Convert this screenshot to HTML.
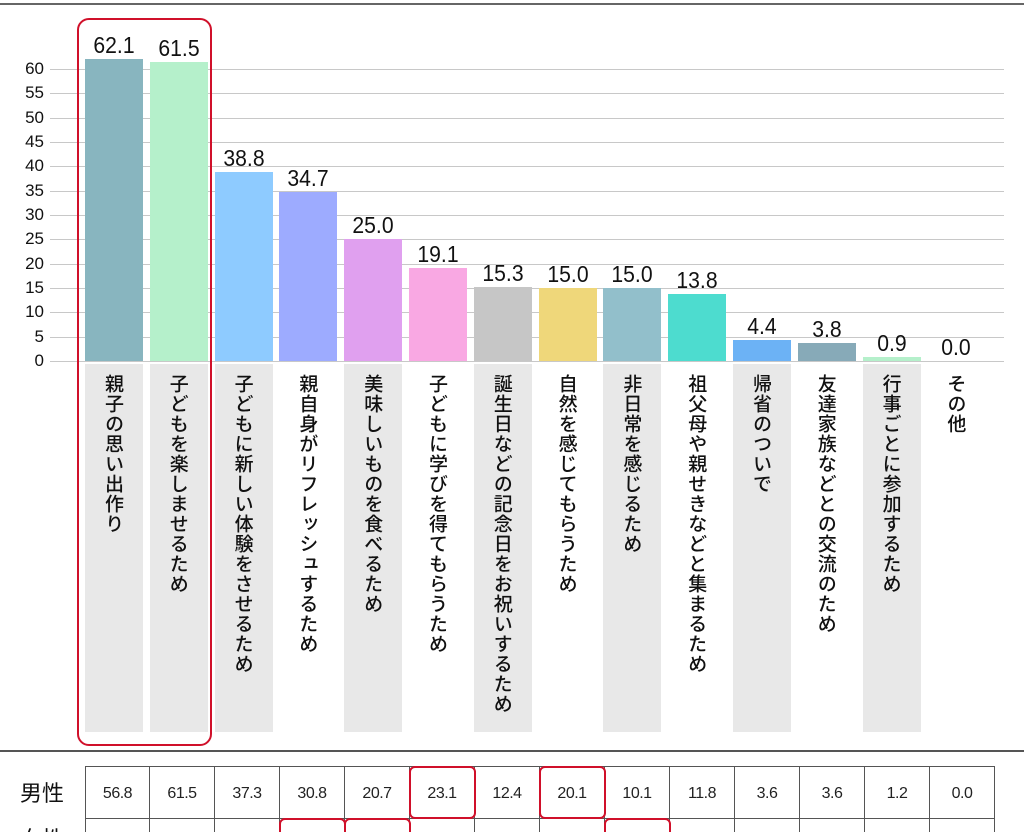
<!DOCTYPE html>
<html><head><meta charset="utf-8"><style>
html,body{margin:0;width:1024px;height:832px;overflow:hidden}
body{background:#fff;position:relative;font-family:"Liberation Sans","Noto Sans CJK JP",sans-serif;}
.a{position:absolute}
.g{position:absolute;left:50px;width:954px;height:1px;background:#c8c8c8}
.t{position:absolute;left:8px;width:36px;text-align:right;font-size:17px;color:#111}
.bar{position:absolute;width:58px}
.v{position:absolute;width:80px;text-align:center;font-size:23px;color:#111;transform:scaleX(0.92)}
.lb{position:absolute;top:364px;width:58px;height:368px}
.lt{position:absolute;top:374px;width:58px;writing-mode:vertical-rl;font-family:"Noto Sans CJK JP",sans-serif;font-size:19px;font-weight:500;line-height:58px;color:#111;letter-spacing:1px}
.c{position:absolute;top:766px;width:65px;height:52px;border-right:1px solid #555;border-top:1px solid #555;font-size:16px;text-align:center;line-height:54px;color:#222;box-sizing:border-box;letter-spacing:-0.5px}
.r{position:absolute;border:2px solid #d0102a;border-radius:6px;box-sizing:border-box}
</style></head><body>
<div class="a" style="left:0;top:3px;width:1024px;height:2px;background:#666"></div>
<div class="a" style="left:0;top:750px;width:1024px;height:2px;background:#555"></div>
<div id="ch"></div>
<div class="a" style="left:20px;top:776px;font-size:22px;font-family:'Noto Sans CJK JP',sans-serif;color:#111">男性</div>
<div class="a" style="left:20px;top:822px;font-size:22px;font-family:'Noto Sans CJK JP',sans-serif;color:#111">女性</div>
<div class="r" style="left:77px;top:18px;width:135px;height:728px;border-radius:12px"></div>
<script>
var vals=[62.1,61.5,38.8,34.7,25.0,19.1,15.3,15.0,15.0,13.8,4.4,3.8,0.9,0.0];
var cols=["#88b5bf","#b5f0cb","#8ecbff","#9dabff","#e0a0ef","#f9a8e3","#c6c6c6","#efd77a","#92bfcb","#4ddccf","#6cb2f5","#87aab8","#b5f0cb","#fff"];
var labs=["親子の思い出作り","子どもを楽しませるため","子どもに新しい体験をさせるため","親自身がリフレッシュするため","美味しいものを食べるため","子どもに学びを得てもらうため","誕生日などの記念日をお祝いするため","自然を感じてもらうため","非日常を感じるため","祖父母や親せきなどと集まるため","帰省のついで","友達家族などとの交流のため","行事ごとに参加するため","その他"];
var men=["56.8","61.5","37.3","30.8","20.7","23.1","12.4","20.1","10.1","11.8","3.6","3.6","1.2","0.0"];
var grey=[1,1,1,0,1,0,1,0,1,0,1,0,1,0];
var h="";
for(var i=0;i<=12;i++){var y=361-i*5*4.867;h+='<div class="g" style="top:'+Math.round(y)+'px"></div><div class="t" style="top:'+Math.round(y-10)+'px">'+(i*5)+'</div>';}
for(var i=0;i<14;i++){var x=85+i*64.8;var bh=vals[i]*4.867;
h+='<div class="bar" style="left:'+x+'px;top:'+(361-bh)+'px;height:'+bh+'px;background:'+cols[i]+'"></div>';
h+='<div class="v" style="left:'+(x-11)+'px;top:'+(361-bh-27)+'px">'+vals[i].toFixed(1)+'</div>';
if(grey[i])h+='<div class="lb" style="left:'+x+'px;background:#e8e8e8"></div>';
h+='<div class="lt" style="left:'+x+'px">'+labs[i]+'</div>';
h+='<div class="c" style="left:'+(85+i*65)+'px;'+(i==0?'border-left:1px solid #555;':'')+'">'+men[i]+'</div>';
h+='<div class="c" style="left:'+(85+i*65)+'px;top:818px;'+(i==0?'border-left:1px solid #555;':'')+'"></div>';}
[[5,766],[7,766],[3,818],[4,818],[8,818]].forEach(function(p){h+='<div class="r" style="left:'+(85+p[0]*65-1)+'px;top:'+p[1]+'px;width:67px;height:53px"></div>';});
document.getElementById("ch").innerHTML=h;
</script>
</body></html>
